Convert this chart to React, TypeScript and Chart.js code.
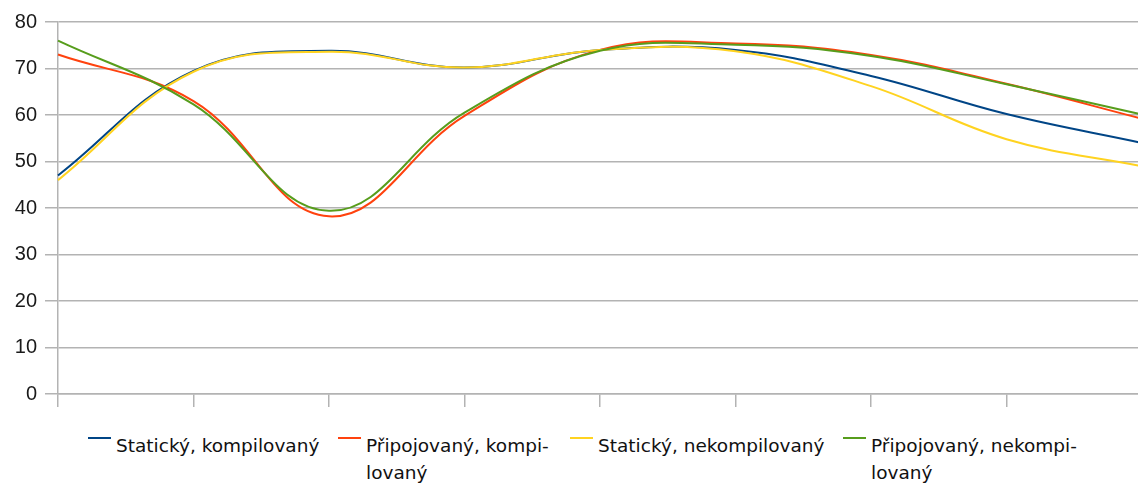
import React, { useEffect, useRef } from "react";
import { Chart, registerables } from "chart.js";

Chart.register(...registerables);

// ---- data ----
const categories = ["1", "2", "3", "4", "5", "6", "7", "8", "9"];
const yTickValues = [0, 10, 20, 30, 40, 50, 60, 70, 80];

const seriesNames = [
  "Statický, kompilovaný",
  "Připojovaný, kompilovaný",
  "Statický, nekompilovaný",
  "Připojovaný, nekompilovaný",
];
const legendLines = [
  ["Statický, kompilovaný"],
  ["Připojovaný, kompi-", "lovaný"],
  ["Statický, nekompilovaný"],
  ["Připojovaný, nekompi-", "lovaný"],
];

const staticCompiled = [47, 69.5, 73.8, 70.2, 74, 74, 68.4, 60.2, 54];
const attachedCompiled = [73, 63, 38.2, 59.8, 74, 75.4, 72.9, 66.7, 59.2];
const staticInterpreted = [46, 69.3, 73.6, 70.2, 74, 73.7, 66.2, 54.8, 49];
const attachedInterpreted = [76, 62.3, 39.4, 60.5, 73.8, 75.1, 72.7, 66.6, 60.1];

const seriesValues = [staticCompiled, attachedCompiled, staticInterpreted, attachedInterpreted];
const seriesColors = ["#004586", "#ff420e", "#ffd320", "#579d1c"];
const seriesOrder = [3, 2, 1, 0];

// ---- layout (not data) ----
const legendLeft = [88, 338, 570, 843];

const TICK_FONT = "'Liberation Sans', Arial, sans-serif";
const LEGEND_FONT = "'DejaVu Sans', sans-serif";

export default function App() {
  const canvasRef = useRef<HTMLCanvasElement | null>(null);

  useEffect(() => {
    const canvas = canvasRef.current;
    if (!canvas) return;
    const chart = new Chart(canvas, {
      type: "line",
      data: {
        labels: categories,
        datasets: seriesNames.map((name, i) => ({
          label: name,
          data: seriesValues[i],
          borderColor: seriesColors[i],
          backgroundColor: seriesColors[i],
          borderWidth: 2,
          pointRadius: 0,
          tension: 0.4,
          fill: false,
          order: seriesOrder[i],
        })),
      },
      options: {
        animation: false,
        responsive: true,
        maintainAspectRatio: false,
        layout: { padding: { left: 14, top: 22, right: 4, bottom: 3 } },
        plugins: {
          legend: { display: false },
          tooltip: { enabled: false },
        },
        scales: {
          x: {
            type: "category",
            offset: false,
            afterFit: (s: any) => {
              s.height = 13;
              s.paddingLeft = 0;
              s.paddingRight = 0;
            },
            grid: {
              drawOnChartArea: false,
              drawTicks: true,
              tickLength: 13,
              color: "#b3b3b3",
              lineWidth: 1.5,
            },
            border: { display: true, color: "#b3b3b3", width: 1.5 },
            ticks: { display: false },
          },
          y: {
            min: 0,
            max: 80,
            afterBuildTicks: (scale: any) => {
              scale.ticks = yTickValues.map((v) => ({ value: v }));
            },
            afterFit: (s: any) => {
              s.width = 44;
              s.paddingTop = 0;
              s.paddingBottom = 0;
            },
            grid: {
              color: "#b3b3b3",
              lineWidth: 1.5,
              tickLength: 13,
              drawTicks: true,
            },
            border: { display: true, color: "#b3b3b3", width: 1.5 },
            ticks: {
              padding: 8,
              color: "#1a1a1a",
              font: { family: TICK_FONT, size: 20 },
              callback: (v: any) => String(v),
            },
          },
        },
      },
    });
    return () => chart.destroy();
  }, []);

  return (
    <div
      style={{
        position: "fixed",
        left: 0,
        top: 0,
        width: 1138,
        height: 486,
        overflow: "hidden",
        background: "#fff",
      }}
    >
      <div style={{ position: "absolute", left: 0, top: 0, width: 1146, height: 410 }}>
        <canvas ref={canvasRef} />
      </div>
      {seriesNames.map((name, i) => (
        <div
          key={name}
          style={{
            position: "absolute",
            left: legendLeft[i],
            top: 432,
            display: "flex",
            alignItems: "flex-start",
            fontFamily: LEGEND_FONT,
            fontSize: 18.5,
            lineHeight: "27px",
            color: "#111",
          }}
        >
          <span
            style={{
              display: "inline-block",
              width: 23,
              height: 2,
              marginTop: 5,
              marginRight: 5,
              background: seriesColors[i],
            }}
          />
          <div>
            {legendLines[i].map((line) => (
              <div key={line} style={{ whiteSpace: "nowrap" }}>
                {line}
              </div>
            ))}
          </div>
        </div>
      ))}
    </div>
  );
}
